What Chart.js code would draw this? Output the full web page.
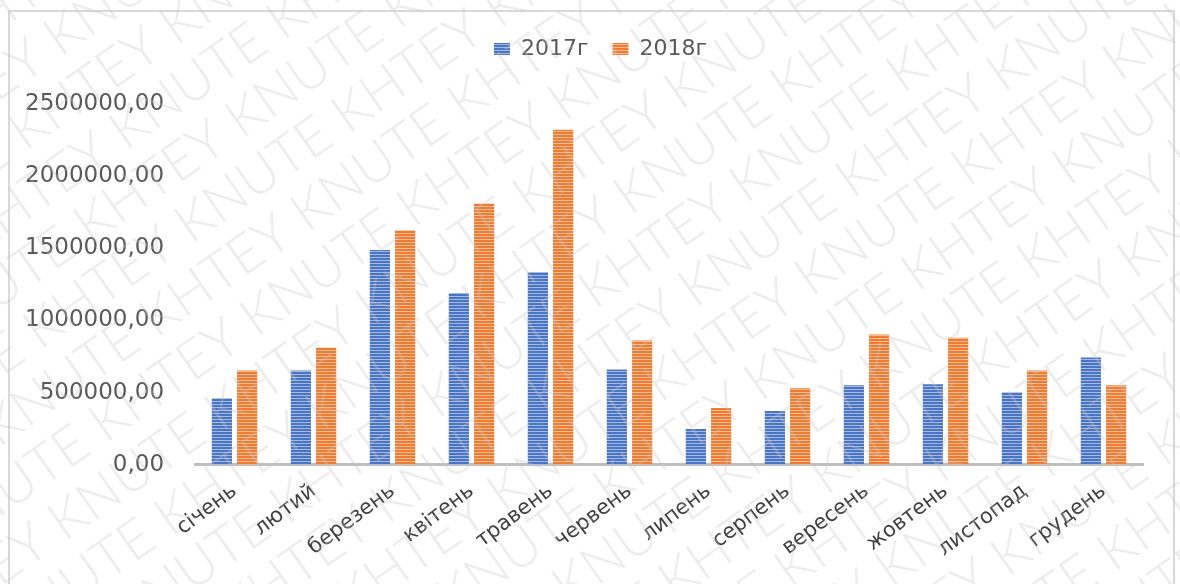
<!DOCTYPE html>
<html>
<head>
<meta charset="utf-8">
<script src="https://cdn.jsdelivr.net/npm/chart.js@4"></script>
<style>
  body { margin: 0; background: #fff; }
  #frame { position: absolute; left: 8px; top: 10px; width: 1163px; height: 600px; border: 2px solid #d9d9d9; }
  #wrap { position: absolute; left: 0; top: 0; width: 1180px; height: 584px; }
</style>
</head>
<body>
<div id="frame"></div>
<div id="wrap"><canvas id="chart" width="1180" height="584"></canvas></div>
<script>
const months = ['січень', 'лютий', 'березень', 'квітень', 'травень', 'червень', 'липень', 'серпень', 'вересень', 'жовтень', 'листопад', 'грудень'];
const values2017 = [461000, 654000, 1488000, 1191000, 1336000, 661000, 248000, 372000, 551000, 558000, 503000, 744000];
const values2018 = [654000, 813000, 1625000, 1811000, 2321000, 861000, 393000, 530000, 902000, 881000, 654000, 551000];
const seriesNames = ['2017г', '2018г'];
const yTicks = [0, 500000, 1000000, 1500000, 2000000, 2500000];
const watermarkWords = ['KNUTE', 'KHTEY'];

// striped fill like the office "horizontal lines" pattern
function stripes(base, light) {
  const c = document.createElement('canvas');
  c.width = 4; c.height = 3;
  const g = c.getContext('2d');
  g.fillStyle = base; g.fillRect(0, 0, 4, 3);
  g.fillStyle = light; g.fillRect(0, 2, 4, 1);
  return g.createPattern(c, 'repeat');
}

const bluePat = stripes('#4a74c4', '#a3badf');
const orangePat = stripes('#ee7d32', '#f6bb92');

const watermark = {
  id: 'watermark',
  afterDraw(chart) {
    const ctx = chart.ctx;
    ctx.save();
    ctx.font = '300 54px Lato, "Open Sans", sans-serif';
    ctx.fillStyle = 'rgba(200,200,200,0.32)';
    ctx.translate(590, 292);
    ctx.rotate(-35 * Math.PI / 180);
    for (let r = -12; r <= 12; r++) {
      let line = '';
      for (let k = 0; k < 14; k++) line += watermarkWords[(k + r + 40) % 2] + ' ';
      ctx.fillText(line, -950 + (r % 2 ? 90 : 0), r * 57);
    }
    ctx.restore();
  }
};

// extra room under the legend, and nudge it right like the original
const legendGap = {
  id: 'legendGap',
  beforeInit(chart) {
    const fit = chart.legend.fit;
    chart.legend.fit = function () {
      fit.call(this);
      this.height += 34;
    };
  },
  afterLayout(chart) {
    chart.legend.left += 28;
    chart.legend.right += 28;
  }
};

new Chart(document.getElementById('chart'), {
  type: 'bar',
  data: {
    labels: months,
    datasets: [
      { label: seriesNames[0], data: values2017, backgroundColor: bluePat, barPercentage: 0.8, categoryPercentage: 0.64 },
      { label: seriesNames[1], data: values2018, backgroundColor: orangePat, barPercentage: 0.8, categoryPercentage: 0.64 }
    ]
  },
  options: {
    responsive: false,
    animation: false,
    layout: { padding: { top: 14, left: 2, right: 37, bottom: 16 } },
    plugins: {
      legend: {
        position: 'top',
        labels: { boxWidth: 16, boxHeight: 12, padding: 24, color: '#595959', font: { family: 'DejaVu Sans', size: 22 } }
      },
      tooltip: { enabled: false }
    },
    scales: {
      x: {
        grid: { display: false },
        border: { color: '#bfbfbf', width: 3 },
        afterFit(axis) { axis.paddingLeft = 0; },
        ticks: { color: '#404040', minRotation: 37, maxRotation: 37, padding: 6, font: { family: 'DejaVu Sans', size: 21 } }
      },
      y: {
        min: 0,
        max: 2500000,
        grid: { display: false },
        border: { display: false },
        afterBuildTicks(axis) { axis.ticks = yTicks.map(v => ({ value: v })); },
        ticks: {
          color: '#595959',
          padding: 23,
          font: { family: 'DejaVu Sans', size: 23 },
          callback: v => v.toFixed(2).replace('.', ',')
        }
      }
    }
  },
  plugins: [legendGap, watermark]
});
</script>
</body>
</html>
